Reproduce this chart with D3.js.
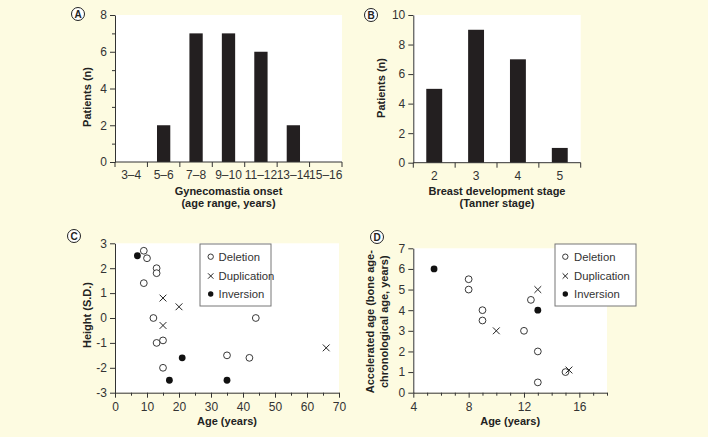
<!DOCTYPE html>
<html>
<head>
<meta charset="utf-8">
<title></title>
<script src="https://d3js.org/d3.v7.min.js"></script>
<style>
  body { margin: 0; background: #fdfbe1; }
  svg { display: block; font-family: "Liberation Sans", Arial, sans-serif; }
  .axis path, .axis line { stroke: #333; }
  .axis text { fill: #333; font-size: 12px; font-family: "Liberation Sans", Arial, sans-serif; }
  .title { font-weight: bold; font-size: 11px; fill: #222; }
</style>
</head>
<body>
<svg width="708" height="437"></svg>
<script>
// panel A: gynecomastia onset
var onsetRanges = ["3–4", "5–6", "7–8", "9–10", "11–12", "13–14", "15–16"];
var onsetCounts = [0, 2, 7, 7, 6, 2, 0];

// panel B: tanner stage
var tannerStages = ["2", "3", "4", "5"];
var tannerCounts = [5, 9, 7, 1];

// panel C: age vs height (S.D.)
var heightDeletion = [[9, 2.7], [10, 2.4], [13, 2.0], [13, 1.8], [9, 1.4], [12, 0], [13, -1], [15, -0.9], [15, -2], [35, -1.5], [42, -1.6], [44, 0]];
var heightDuplication = [[15, 0.8], [20, 0.45], [15, -0.3], [66, -1.2]];
var heightInversion = [[7, 2.5], [21, -1.6], [17, -2.5], [35, -2.5]];

// panel D: age vs accelerated bone age
var boneDeletion = [[8, 5.5], [8, 5], [9, 4], [9, 3.5], [12, 3], [12.5, 4.5], [13, 2], [13, 0.5], [15, 1]];
var boneDuplication = [[10, 3], [13, 5], [15.25, 1.1]];
var boneInversion = [[5.5, 6], [13, 4]];

var legendKeys = ["Deletion", "Duplication", "Inversion"];

var svg = d3.select("svg");
var fmt = function(d) { return String(d); };

function cleanAxis(g) {
  g.attr("font-family", null).attr("font-size", null);
}

function panelLabel(x, y, letter) {
  svg.append("circle").attr("cx", x).attr("cy", y).attr("r", 6.5)
    .attr("fill", "#fff").attr("stroke", "#222").attr("stroke-width", 1);
  svg.append("text").attr("x", x).attr("y", y + 3.6).attr("text-anchor", "middle")
    .style("font-size", "10px").style("font-weight", "bold").attr("fill", "#222").text(letter);
}

function yTitle(x, y, lines) {
  var t = svg.append("text").attr("class", "title")
    .attr("transform", "translate(" + x + "," + y + ") rotate(-90)")
    .attr("text-anchor", "middle");
  lines.forEach(function(l, i) {
    t.append("tspan").attr("x", 0).attr("dy", i == 0 ? 0 : 14).text(l);
  });
}

function xTitle(x, y, lines) {
  lines.forEach(function(l, i) {
    svg.append("text").attr("class", "title").attr("x", x).attr("y", y + i * 12)
      .attr("text-anchor", "middle").text(l);
  });
}

function barPanel(cats, vals, x0, x1, yBottom, yTop, yMax, minor, barFrac, label, labelPos, yt, xt) {
  svg.append("rect").attr("x", x0).attr("y", yTop).attr("width", x1 - x0).attr("height", yBottom - yTop).attr("fill", "#fff");

  var x = d3.scaleBand().domain(cats).range([x0, x1]).padding(0);
  var y = d3.scaleLinear().domain([0, yMax]).range([yBottom, yTop]);

  var bw = x.bandwidth() * barFrac;
  svg.append("g").selectAll("rect").data(vals).enter().append("rect")
    .attr("x", function(d, i) { return x(cats[i]) + (x.bandwidth() - bw) / 2; })
    .attr("y", function(d) { return y(d); })
    .attr("width", bw)
    .attr("height", function(d) { return y(0) - y(d); })
    .attr("fill", "#231f20");

  // y axis
  if (minor) {
    svg.append("g").attr("class", "axis").attr("transform", "translate(" + x0 + ",0)")
      .call(d3.axisLeft(y).tickValues(d3.range(1, yMax, 2)).tickSize(3).tickFormat(""))
      .select(".domain").remove();
  }
  svg.append("g").attr("class", "axis").attr("transform", "translate(" + x0 + ",0)")
    .call(d3.axisLeft(y).tickValues(d3.range(0, yMax + 1, 2)).tickSize(5).tickPadding(3).tickSizeOuter(0).tickFormat(fmt))
    .call(cleanAxis);

  // x axis: ticks on band boundaries, labels centered
  var bounds = cats.map(function(c) { return x(c); }).concat([x1]);
  var gx = svg.append("g").attr("class", "axis").attr("transform", "translate(0," + yBottom + ")");
  gx.append("path").attr("d", "M" + x0 + ",0H" + x1).attr("stroke", "#333").attr("fill", "none");
  gx.selectAll("line").data(bounds).enter().append("line")
    .attr("x1", function(d) { return d; }).attr("x2", function(d) { return d; })
    .attr("y1", 0).attr("y2", 5);
  gx.selectAll("text").data(cats).enter().append("text")
    .attr("x", function(d) { return x(d) + x.bandwidth() / 2; })
    .attr("y", xt.tickY - yBottom).attr("text-anchor", "middle").text(function(d) { return d; });

  yTitle(yt.x, yt.y, ["Patients (n)"]);
  xTitle((x0 + x1) / 2, xt.y, xt.lines);
  panelLabel(labelPos[0], labelPos[1], label);
}

function drawPoints(g, x, y, dels, dups, invs, r) {
  g.selectAll(".del").data(dels).enter().append("circle")
    .attr("cx", function(d) { return x(d[0]); }).attr("cy", function(d) { return y(d[1]); })
    .attr("r", r).attr("fill", "#fff").attr("stroke", "#222").attr("stroke-width", 0.9);
  g.selectAll(".dup").data(dups).enter().append("path")
    .attr("d", function(d) {
      var cx = x(d[0]), cy = y(d[1]), s = r;
      return "M" + (cx - s) + "," + (cy - s) + "L" + (cx + s) + "," + (cy + s) +
             "M" + (cx - s) + "," + (cy + s) + "L" + (cx + s) + "," + (cy - s);
    })
    .attr("stroke", "#222").attr("stroke-width", 1).attr("fill", "none");
  g.selectAll(".inv").data(invs).enter().append("circle")
    .attr("cx", function(d) { return x(d[0]); }).attr("cy", function(d) { return y(d[1]); })
    .attr("r", r).attr("fill", "#111");
}

function legend(bx, by, bw, bh, symX, textX, rowsY) {
  svg.append("rect").attr("x", bx).attr("y", by).attr("width", bw).attr("height", bh)
    .attr("fill", "#fff").attr("stroke", "#777").attr("stroke-width", 1);
  var g = svg.append("g");
  drawPoints(g, function(d) { return d; }, function(d) { return d; },
    [[symX, rowsY[0]]], [[symX, rowsY[1]]], [[symX, rowsY[2]]], 2.7);
  legendKeys.forEach(function(k, i) {
    svg.append("text").attr("x", textX).attr("y", rowsY[i]).attr("dy", "0.36em")
      .style("font-size", "11.3px").attr("fill", "#333").text(k);
  });
}

// ---- A ----
barPanel(onsetRanges, onsetCounts, 115, 342, 162, 15, 8, true, 0.41, "A", [78, 14],
  {x: 91, y: 97}, {tickY: 178.5, y: 195, lines: ["Gynecomastia onset", "(age range, years)"]});

// ---- B ----
barPanel(tannerStages, tannerCounts, 413.3, 580.7, 162.7, 15, 10, false, 0.38, "B", [371, 15],
  {x: 384.5, y: 88}, {tickY: 180, y: 195, lines: ["Breast development stage", "(Tanner stage)"]});

// ---- C ----
(function() {
  var x0 = 115, x1 = 339, yB = 392.7, yT = 243.3;
  svg.append("rect").attr("x", x0).attr("y", yT).attr("width", x1 - x0).attr("height", yB - yT).attr("fill", "#fff");
  var x = d3.scaleLinear().domain([0, 70]).range([x0, x1]);
  var y = d3.scaleLinear().domain([-3, 3]).range([yB, yT]);

  svg.append("g").attr("class", "axis").attr("transform", "translate(0," + yB + ")")
    .call(d3.axisBottom(x).tickValues(d3.range(5, 70, 10)).tickSize(3).tickFormat(""))
    .select(".domain").remove();
  svg.append("g").attr("class", "axis").attr("transform", "translate(0," + yB + ")")
    .call(d3.axisBottom(x).tickValues(d3.range(0, 71, 10)).tickSize(5).tickPadding(5).tickSizeOuter(0).tickFormat(fmt))
    .call(cleanAxis);
  svg.append("g").attr("class", "axis").attr("transform", "translate(" + x0 + ",0)")
    .call(d3.axisLeft(y).tickValues(d3.range(-3, 4)).tickSize(5).tickPadding(3).tickSizeOuter(0).tickFormat(fmt))
    .call(cleanAxis);

  drawPoints(svg.append("g"), x, y, heightDeletion, heightDuplication, heightInversion, 3.4);
  legend(200, 244, 71, 62, 210.7, 218.5, [256.7, 276, 294]);

  yTitle(91, 315, ["Height (S.D.)"]);
  xTitle((x0 + x1) / 2, 425, ["Age (years)"]);
  panelLabel(74, 236, "C");
})();

// ---- D ----
(function() {
  var x0 = 413.3, x1 = 607, yB = 392.7, yT = 248.3;
  svg.append("rect").attr("x", x0).attr("y", yT).attr("width", x1 - x0).attr("height", yB - yT).attr("fill", "#fff");
  var x = d3.scaleLinear().domain([4, 18]).range([x0, x1]);
  var y = d3.scaleLinear().domain([0, 7]).range([yB, yT]);

  svg.append("g").attr("class", "axis").attr("transform", "translate(0," + yB + ")")
    .call(d3.axisBottom(x).tickValues(d3.range(5, 19).filter(function(d) { return d % 4 != 0; })).tickSize(3).tickFormat(""))
    .select(".domain").remove();
  svg.append("g").attr("class", "axis").attr("transform", "translate(0," + yB + ")")
    .call(d3.axisBottom(x).tickValues([4, 8, 12, 16]).tickSize(5).tickPadding(5).tickSizeOuter(0).tickFormat(fmt))
    .call(cleanAxis);
  svg.append("g").attr("class", "axis").attr("transform", "translate(" + x0 + ",0)")
    .call(d3.axisLeft(y).tickValues(d3.range(0, 8)).tickSize(5).tickPadding(3).tickSizeOuter(0).tickFormat(fmt))
    .call(cleanAxis);

  drawPoints(svg.append("g"), x, y, boneDeletion, boneDuplication, boneInversion, 3.4);
  legend(555, 244, 81, 62, 565.3, 574, [256.7, 276, 294]);

  yTitle(374, 321.7, ["Accelerated age (bone age-", "chronological age, years)"]);
  xTitle((x0 + x1) / 2, 425, ["Age (years)"]);
  panelLabel(377, 237, "D");
})();
</script>
</body>
</html>
